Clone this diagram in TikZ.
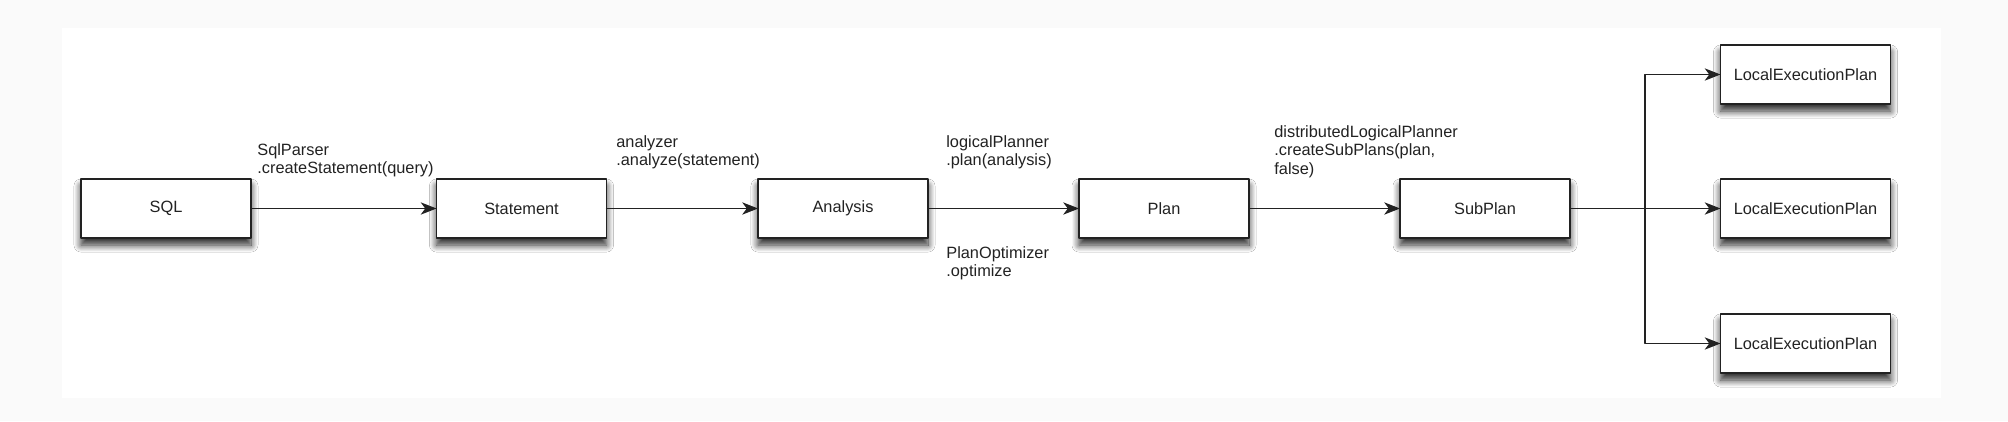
\documentclass[tikz,border=0pt]{standalone}
\usepackage{fontspec}
\setmainfont{Liberation Sans}
\usepackage{xcolor}
\usepackage{tikz}
\usetikzlibrary{arrows.meta}
\usetikzlibrary{shadows.blur}
\definecolor{pagegray}{HTML}{FAFAFA}
\definecolor{inkgray}{HTML}{222222}
\begin{document}
\begin{tikzpicture}[line cap=round,line join=round,>={Stealth[length=9pt,width=7pt,inset=2.6pt]},
  stage/.style={draw=inkgray,line width=1pt,fill=white,minimum width=3.4cm,minimum height=1.18cm,inner sep=0pt,outer sep=0pt,
    text=inkgray,font=\fontsize{9.3}{11}\selectfont,
    blur shadow={shadow xshift=0pt,shadow yshift=-4pt,shadow blur radius=4pt,shadow opacity=85,shadow blur steps=12}},
  call/.style={anchor=north west,inner sep=0pt,align=left,text=inkgray,font=\fontsize{9.3}{10.6}\selectfont},
  flow/.style={->,draw=inkgray,line width=0.75pt}]
\useasboundingbox (0,0) rectangle (40.16,8.42);
\fill[pagegray] (0,0) rectangle (40.16,8.42);
\fill[white] (1.24,0.46) rectangle (38.82,7.86);
\node[stage] (sql) at (3.32,4.25) {SQL};
\node[stage] (statement) at (10.43,4.25) {Statement};
\node[stage] (analysis) at (16.86,4.25) {Analysis};
\node[stage] (plan) at (23.28,4.25) {Plan};
\node[stage] (subplan) at (29.70,4.25) {SubPlan};
\node[stage] (lepa) at (36.11,6.93) {LocalExecutionPlan};
\node[stage] (lepb) at (36.11,4.25) {LocalExecutionPlan};
\node[stage] (lepc) at (36.11,1.55) {LocalExecutionPlan};
\coordinate (fork) at (32.9,4.25);
\draw[flow] (sql) -- (statement);
\draw[flow] (statement) -- (analysis);
\draw[flow] (analysis) -- (plan);
\draw[flow] (plan) -- (subplan);
\draw[flow] (subplan) -- (lepb);
\draw[flow] (fork) |- (lepa);
\draw[flow] (fork) |- (lepc);
\node[call] (parsecall) at (5.14,5.56) {SqlParser\\.createStatement(query)};
\node[call] (analyzecall) at (12.32,5.72) {analyzer\\.analyze(statement)};
\node[call] (plancall) at (18.92,5.72) {logicalPlanner\\.plan(analysis)};
\node[call] (optcall) at (18.92,3.50) {PlanOptimizer\\.optimize};
\node[call] (subcall) at (25.48,5.92) {distributedLogicalPlanner\\.createSubPlans(plan,\\false)};
\end{tikzpicture}
\end{document}
